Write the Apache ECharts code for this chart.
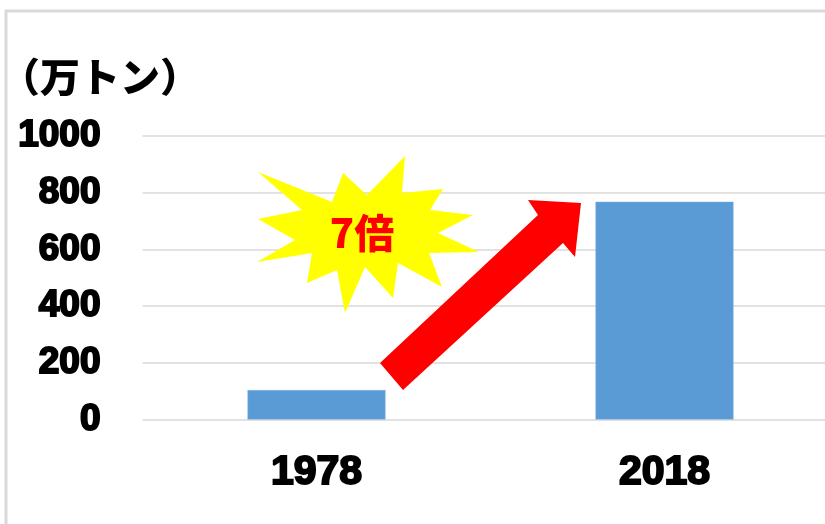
<!DOCTYPE html>
<html>
<head>
<meta charset="utf-8">
<script src="https://cdn.jsdelivr.net/npm/echarts@6/dist/echarts.min.js"></script>
<style>html,body{margin:0;padding:0;background:#fff;}#c{width:825px;height:524px;}</style>
</head>
<body>
<div id="c"></div>
<script>
var categories = ['1978', '2018'];
var values = [104, 768];
var yTicks = [0, 200, 400, 600, 800, 1000];
var unitLabel = '（万トン）';
var badgeText = '7倍';

var chart = echarts.init(document.getElementById('c'));
var starPts = [[258,172],[332,202],[343,173],[367,195],[405,156],[402,193],[443,189],[430,210],[473,215],[438,233],[479,252],[429,253],[442,287],[398,263],[393,298],[365,267],[345,313],[337,270],[307,283],[312,253],[257,262],[295,240],[258,219],[302,210]];
var arrowPts = [[380,363],[538,215],[528,200],[581,203],[575,257],[563,243],[403,390]];
chart.setOption({
  animation: false,
  backgroundColor: '#fff',
  grid: { left: 142.5, top: 136, width: 696, height: 283.5, containLabel: false, outerBoundsMode: 'none' },
  xAxis: {
    type: 'category',
    data: categories,
    axisLine: { show: false },
    axisTick: { show: false },
    axisLabel: {
      margin: 33,
      fontFamily: 'Liberation Sans',
      fontWeight: 'bold',
      fontSize: 41,
      color: '#000',
      textBorderColor: '#000',
      textBorderWidth: 2
    }
  },
  yAxis: {
    type: 'value',
    min: yTicks[0],
    max: yTicks[yTicks.length - 1],
    interval: yTicks[1] - yTicks[0],
    axisLine: { show: false },
    axisTick: { show: false },
    splitLine: { lineStyle: { color: '#d9d9d9', width: 1.5 } },
    axisLabel: {
      margin: 42,
      formatter: function (v) { return String(v); },
      fontFamily: 'Liberation Sans',
      fontWeight: 'bold',
      fontSize: 37,
      color: '#000',
      textBorderColor: '#000',
      textBorderWidth: 2,
      verticalAlign: 'middle',
      padding: [0, 0, 6, 0]
    }
  },
  series: [{
    type: 'bar',
    data: values,
    barWidth: 138,
    itemStyle: { color: '#5b9bd5', borderColor: '#7fb0e0', borderWidth: 0.5 }
  }],
  graphic: [
    { type: 'rect', shape: { x: 6, y: 11, width: 840, height: 540 }, style: { fill: 'none', stroke: '#d9d9d9', lineWidth: 3 }, z: 100 },
    { type: 'text', left: 0, top: 57, style: { text: unitLabel, font: '900 40px "Noto Sans CJK JP"', fill: '#000' }, z: 100 },
    { type: 'polygon', shape: { points: starPts }, style: { fill: '#ffff00' }, z: 100 },
    { type: 'text', x: 362, y: 233, style: { text: badgeText, font: '900 40px "Noto Sans CJK JP"', fill: '#ff0000', align: 'center', verticalAlign: 'middle' }, z: 101 },
    { type: 'polygon', shape: { points: arrowPts }, style: { fill: '#ff0000' }, z: 100 }
  ]
});
</script>
</body>
</html>
